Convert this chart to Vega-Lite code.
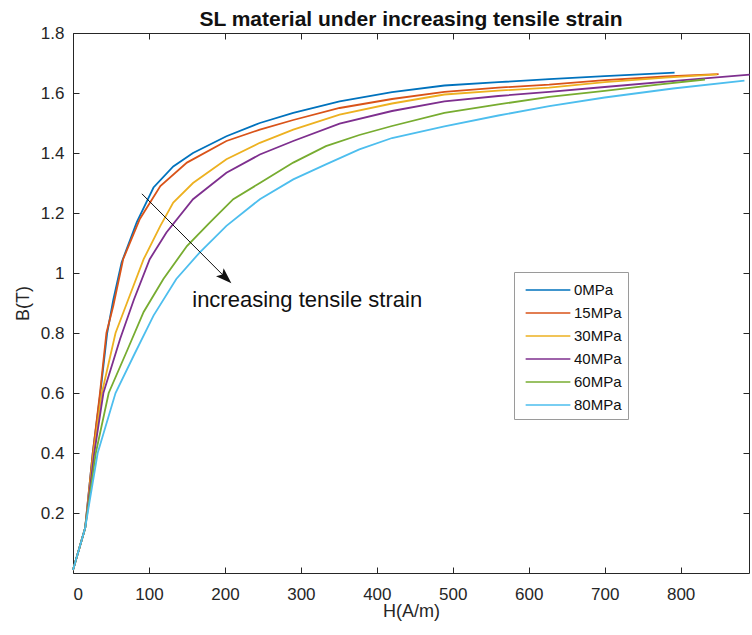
{
  "$schema": "https://vega.github.io/schema/vega-lite/v6.json",
  "width": 676,
  "height": 540,
  "autosize": "none",
  "padding": {"left": 73, "top": 33, "right": 3, "bottom": 62},
  "background": "white",
  "title": {"text": "SL material under increasing tensile strain", "fontSize": 21, "fontWeight": "bold", "font": "Liberation Sans", "color": "#111111", "offset": 8, "dy": 14, "anchor": "middle"},
  "config": {
    "view": {"stroke": null},
    "font": "Liberation Sans",
    "axis": {"grid": false, "domainColor": "#262626", "tickColor": "#262626", "labelColor": "#262626", "titleColor": "#262626", "labelFontSize": 17, "titleFontSize": 18, "titleFontWeight": "normal", "tickSize": -6, "domainWidth": 1, "tickWidth": 1}
  },
  "datasets": {
    "curves": [
      {"H":0,"B":0.01,"s":"0MPa"},{"H":16,"B":0.15,"s":"0MPa"},{"H":26,"B":0.40,"s":"0MPa"},{"H":36,"B":0.60,"s":"0MPa"},{"H":45,"B":0.80,"s":"0MPa"},{"H":53,"B":0.91,"s":"0MPa"},{"H":64,"B":1.035,"s":"0MPa"},{"H":84,"B":1.17,"s":"0MPa"},{"H":106,"B":1.285,"s":"0MPa"},{"H":132,"B":1.355,"s":"0MPa"},{"H":158,"B":1.40,"s":"0MPa"},{"H":202,"B":1.456,"s":"0MPa"},{"H":246,"B":1.50,"s":"0MPa"},{"H":290,"B":1.534,"s":"0MPa"},{"H":351,"B":1.572,"s":"0MPa"},{"H":420,"B":1.603,"s":"0MPa"},{"H":489,"B":1.625,"s":"0MPa"},{"H":560,"B":1.636,"s":"0MPa"},{"H":627,"B":1.646,"s":"0MPa"},{"H":700,"B":1.656,"s":"0MPa"},{"H":792,"B":1.668,"s":"0MPa"},
      {"H":0,"B":0.01,"s":"15MPa"},{"H":16,"B":0.15,"s":"15MPa"},{"H":26,"B":0.40,"s":"15MPa"},{"H":35.5,"B":0.60,"s":"15MPa"},{"H":44,"B":0.80,"s":"15MPa"},{"H":53,"B":0.89,"s":"15MPa"},{"H":66,"B":1.046,"s":"15MPa"},{"H":88,"B":1.18,"s":"15MPa"},{"H":115,"B":1.29,"s":"15MPa"},{"H":150,"B":1.368,"s":"15MPa"},{"H":202,"B":1.44,"s":"15MPa"},{"H":246,"B":1.478,"s":"15MPa"},{"H":290,"B":1.51,"s":"15MPa"},{"H":351,"B":1.55,"s":"15MPa"},{"H":420,"B":1.58,"s":"15MPa"},{"H":489,"B":1.604,"s":"15MPa"},{"H":560,"B":1.618,"s":"15MPa"},{"H":627,"B":1.628,"s":"15MPa"},{"H":700,"B":1.643,"s":"15MPa"},{"H":780,"B":1.655,"s":"15MPa"},{"H":850,"B":1.663,"s":"15MPa"},
      {"H":0,"B":0.01,"s":"30MPa"},{"H":16,"B":0.15,"s":"30MPa"},{"H":27,"B":0.40,"s":"30MPa"},{"H":38,"B":0.60,"s":"30MPa"},{"H":56,"B":0.80,"s":"30MPa"},{"H":71,"B":0.90,"s":"30MPa"},{"H":93,"B":1.046,"s":"30MPa"},{"H":115,"B":1.157,"s":"30MPa"},{"H":132,"B":1.235,"s":"30MPa"},{"H":158,"B":1.30,"s":"30MPa"},{"H":202,"B":1.379,"s":"30MPa"},{"H":246,"B":1.434,"s":"30MPa"},{"H":290,"B":1.478,"s":"30MPa"},{"H":351,"B":1.528,"s":"30MPa"},{"H":420,"B":1.565,"s":"30MPa"},{"H":489,"B":1.595,"s":"30MPa"},{"H":560,"B":1.608,"s":"30MPa"},{"H":627,"B":1.618,"s":"30MPa"},{"H":700,"B":1.636,"s":"30MPa"},{"H":780,"B":1.651,"s":"30MPa"},{"H":848,"B":1.662,"s":"30MPa"},
      {"H":0,"B":0.01,"s":"40MPa"},{"H":16,"B":0.15,"s":"40MPa"},{"H":28,"B":0.40,"s":"40MPa"},{"H":40,"B":0.60,"s":"40MPa"},{"H":62,"B":0.78,"s":"40MPa"},{"H":80,"B":0.91,"s":"40MPa"},{"H":101,"B":1.046,"s":"40MPa"},{"H":123,"B":1.135,"s":"40MPa"},{"H":158,"B":1.246,"s":"40MPa"},{"H":202,"B":1.334,"s":"40MPa"},{"H":246,"B":1.395,"s":"40MPa"},{"H":290,"B":1.44,"s":"40MPa"},{"H":351,"B":1.498,"s":"40MPa"},{"H":420,"B":1.54,"s":"40MPa"},{"H":489,"B":1.572,"s":"40MPa"},{"H":560,"B":1.59,"s":"40MPa"},{"H":627,"B":1.604,"s":"40MPa"},{"H":700,"B":1.62,"s":"40MPa"},{"H":800,"B":1.642,"s":"40MPa"},{"H":891,"B":1.661,"s":"40MPa"},
      {"H":0,"B":0.01,"s":"60MPa"},{"H":16,"B":0.15,"s":"60MPa"},{"H":30,"B":0.40,"s":"60MPa"},{"H":47,"B":0.60,"s":"60MPa"},{"H":71,"B":0.74,"s":"60MPa"},{"H":93,"B":0.87,"s":"60MPa"},{"H":119,"B":0.98,"s":"60MPa"},{"H":150,"B":1.09,"s":"60MPa"},{"H":180,"B":1.168,"s":"60MPa"},{"H":211,"B":1.246,"s":"60MPa"},{"H":246,"B":1.30,"s":"60MPa"},{"H":290,"B":1.368,"s":"60MPa"},{"H":333,"B":1.423,"s":"60MPa"},{"H":377,"B":1.46,"s":"60MPa"},{"H":420,"B":1.49,"s":"60MPa"},{"H":489,"B":1.534,"s":"60MPa"},{"H":560,"B":1.562,"s":"60MPa"},{"H":627,"B":1.587,"s":"60MPa"},{"H":700,"B":1.607,"s":"60MPa"},{"H":770,"B":1.628,"s":"60MPa"},{"H":832,"B":1.645,"s":"60MPa"},
      {"H":0,"B":0.01,"s":"80MPa"},{"H":16,"B":0.15,"s":"80MPa"},{"H":32.5,"B":0.40,"s":"80MPa"},{"H":56,"B":0.60,"s":"80MPa"},{"H":80,"B":0.725,"s":"80MPa"},{"H":106,"B":0.858,"s":"80MPa"},{"H":136,"B":0.98,"s":"80MPa"},{"H":167,"B":1.069,"s":"80MPa"},{"H":202,"B":1.157,"s":"80MPa"},{"H":246,"B":1.246,"s":"80MPa"},{"H":290,"B":1.312,"s":"80MPa"},{"H":333,"B":1.362,"s":"80MPa"},{"H":377,"B":1.412,"s":"80MPa"},{"H":420,"B":1.45,"s":"80MPa"},{"H":489,"B":1.489,"s":"80MPa"},{"H":560,"B":1.525,"s":"80MPa"},{"H":627,"B":1.556,"s":"80MPa"},{"H":700,"B":1.585,"s":"80MPa"},{"H":790,"B":1.615,"s":"80MPa"},{"H":884,"B":1.641,"s":"80MPa"}
    ],
    "arrow": [{"H":90.7,"B":1.264,"H2":199,"B2":0.989}],
    "note": [{"H":157,"B":0.911,"t":"increasing tensile strain"}]
  },
  "layer": [
    {
      "data": {"name": "curves"},
      "mark": {"type": "line", "strokeWidth": 1.8},
      "encoding": {
        "x": {"field": "H", "type": "quantitative", "scale": {"domain": [0, 890], "nice": false}, "axis": {"orient": "bottom", "values": [0,100,200,300,400,500,600,700,800], "title": "H(A/m)", "labelPadding": 19, "titlePadding": 0}},
        "y": {"field": "B", "type": "quantitative", "scale": {"domain": [0, 1.8], "nice": false}, "axis": {"orient": "left", "values": [0.2,0.4,0.6,0.8,1,1.2,1.4,1.6,1.8], "format": "~g", "title": "B(T)", "labelPadding": 15, "titlePadding": 8}},
        "color": {"field": "s", "type": "nominal", "scale": {"domain": ["0MPa","15MPa","30MPa","40MPa","60MPa","80MPa"], "range": ["#0072BD","#D95319","#EDB120","#7E2F8E","#77AC30","#4DBEEE"]},
          "legend": {"title": null, "orient": "none", "legendX": 441, "legendY": 239, "symbolType": "M-2,0L2,0", "symbolSize": 500, "symbolStrokeWidth": 1.5, "symbolOffset": 16, "symbolFillColor": "transparent", "labelFontSize": 15, "labelColor": "#111111", "labelOffset": 14, "rowPadding": 3, "padding": 6, "strokeColor": "#9a9a9a", "fillColor": "white", "labelLimit": 200}}
      }
    },
    {
      "data": {"name": "curves"},
      "mark": {"type": "point", "opacity": 0},
      "encoding": {
        "x": {"field": "H", "type": "quantitative", "axis": {"orient": "top", "values": [0,100,200,300,400,500,600,700,800], "labels": false, "title": null}},
        "y": {"field": "B", "type": "quantitative", "axis": {"orient": "right", "values": [0.2,0.4,0.6,0.8,1,1.2,1.4,1.6,1.8], "labels": false, "title": null}}
      }
    },
    {
      "data": {"name": "arrow"},
      "mark": {"type": "rule", "color": "#111111", "strokeWidth": 1},
      "encoding": {
        "x": {"field": "H", "type": "quantitative", "axis": null},
        "y": {"field": "B", "type": "quantitative", "axis": null},
        "x2": {"field": "H2"},
        "y2": {"field": "B2"}
      }
    },
    {
      "data": {"name": "arrow"},
      "mark": {"type": "point", "shape": "M0,-1L0.55,0.6L0,0.25L-0.55,0.6Z", "filled": true, "color": "#111111", "opacity": 1, "size": 400, "angle": 133.6},
      "encoding": {
        "x": {"field": "H2", "type": "quantitative", "axis": null},
        "y": {"field": "B2", "type": "quantitative", "axis": null}
      }
    },
    {
      "data": {"name": "note"},
      "mark": {"type": "text", "align": "left", "baseline": "middle", "fontSize": 22, "color": "#111111", "font": "Liberation Sans"},
      "encoding": {
        "x": {"field": "H", "type": "quantitative", "axis": null},
        "y": {"field": "B", "type": "quantitative", "axis": null},
        "text": {"field": "t"}
      }
    }
  ],
  "resolve": {"axis": {"x": "independent", "y": "independent"}}
}
